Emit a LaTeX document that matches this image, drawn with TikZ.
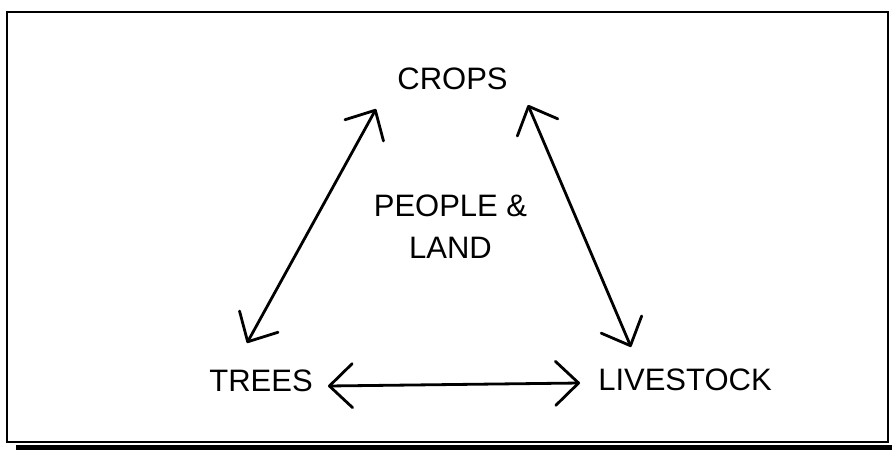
\documentclass[tikz,border=0pt]{standalone}
\usepackage{fontspec}
\setmainfont{Liberation Sans}
\usetikzlibrary{arrows.meta}
\begin{document}
\begin{tikzpicture}[x=1pt,y=-1pt,
  lbl/.style={anchor=base,inner sep=0pt,font=\fontsize{31}{37}\selectfont},
  link/.style={line width=2.8pt,line cap=round,
    arrows={Straight Barb[length=23pt,width=44pt,line cap=round,line join=round]-Straight Barb[length=23pt,width=44pt,line cap=round,line join=round]}}]
\useasboundingbox (0,0) rectangle (892,450);
\fill[white] (0,0) rectangle (892,450);
% frame
\draw[line width=1.8pt] (7,12) rectangle (888,442);
\fill (16,444.5) rectangle (892,450);
% labels
\node[lbl] (crops) at (452.5,89.5) {CROPS};
\node[lbl] (people) at (450.5,216) {PEOPLE \&};
\node[lbl] (land) at (450.5,258) {LAND};
\node[lbl] (trees) at (261,391) {TREES};
\node[lbl] (livestock) at (685,390) {LIVESTOCK};
% arrow ends near the labels
\coordinate (ct1) at (376,109);
\coordinate (tr1) at (247,343);
\coordinate (ct2) at (528,105);
\coordinate (lv1) at (631,347);
\coordinate (tr2) at (328,386);
\coordinate (lv2) at (580,383);
% connectors
\draw[link] (tr1) -- (ct1);
\draw[link] (ct2) -- (lv1);
\draw[link] (tr2) -- (lv2);
\end{tikzpicture}
\end{document}
